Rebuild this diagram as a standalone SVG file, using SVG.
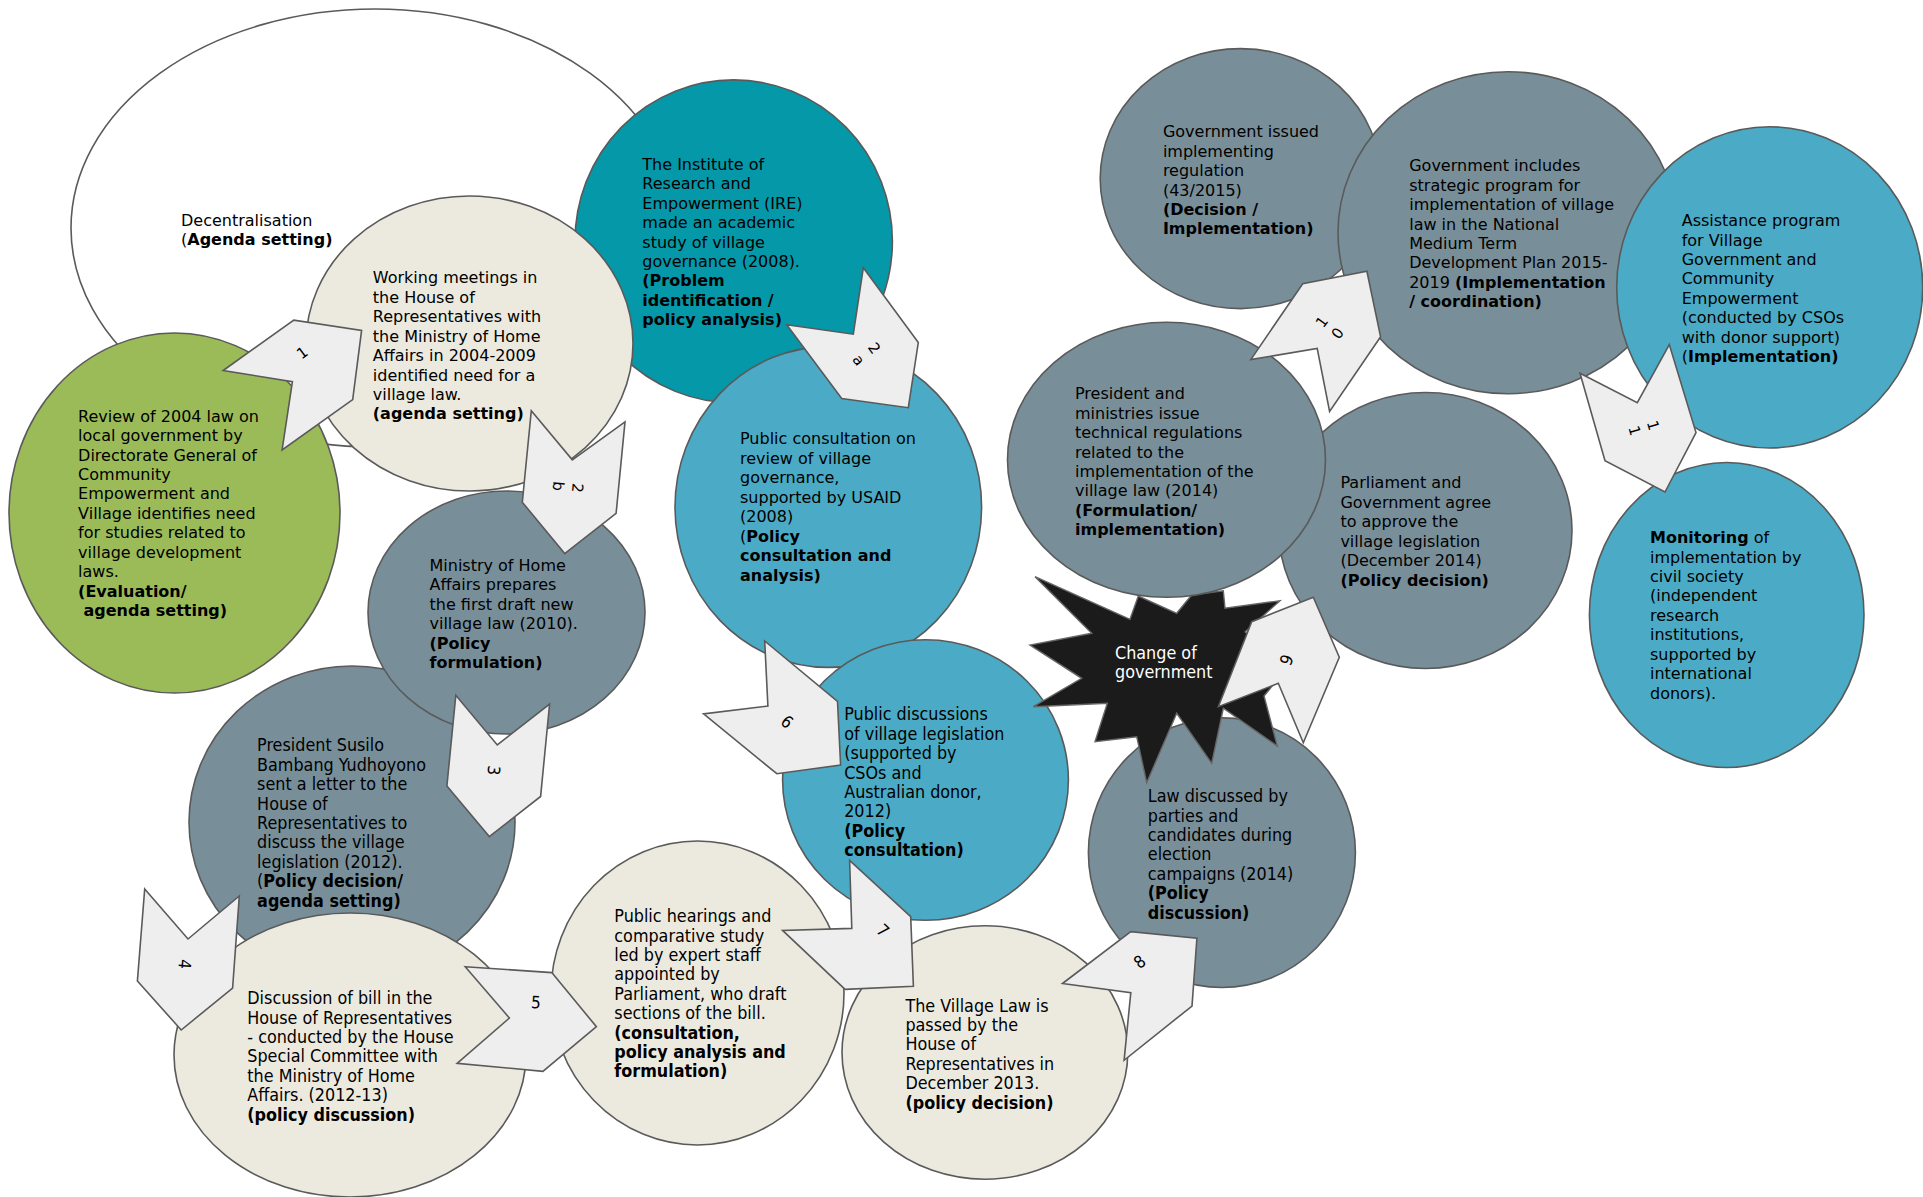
<svg xmlns="http://www.w3.org/2000/svg" width="1923" height="1197" viewBox="0 0 1923 1197">
<style>
.c{stroke:#5a5a5a;stroke-width:1.6}
.gray{fill:#788f9a}
.beige{fill:#eceadf}
.teal{fill:#0598a8}
.blue{fill:#4babc6}
.green{fill:#9bbb59}
.v{font-family:"DejaVu Sans",Verdana,sans-serif;font-size:16px;fill:#000}
.n{font-family:"DejaVu Sans Condensed","Liberation Sans",Arial,sans-serif;font-size:17.8px;fill:#000}
.b{font-weight:bold}
.arr{fill:#eeeeee;stroke:#5a5a5a;stroke-width:1.6;stroke-linejoin:miter}
.lv{font-family:"DejaVu Sans",Verdana,sans-serif;font-size:15px;fill:#000;text-anchor:middle}
.ln{font-family:"DejaVu Sans Condensed","Liberation Sans",Arial,sans-serif;font-size:17px;fill:#000;text-anchor:middle}
</style>
<rect width="1923" height="1197" fill="#ffffff"/>

<g id="decentralisation">
<ellipse class="c" cx="375" cy="228" rx="304" ry="219" fill="#ffffff"/>
<text class="v" x="181" y="225.7">Decentralisation<tspan x="181" dy="19.45">(</tspan><tspan class="b">Agenda setting)</tspan></text>
</g>

<g id="review-2004">
<ellipse class="c green" cx="174.5" cy="513" rx="165.5" ry="180"/>
<text class="v" x="78.1" y="421.6">Review of 2004 law on<tspan x="78.1" dy="19.45">local government by</tspan><tspan x="78.1" dy="19.45">Directorate General of</tspan><tspan x="78.1" dy="19.45">Community</tspan><tspan x="78.1" dy="19.45">Empowerment and</tspan><tspan x="78.1" dy="19.45">Village identifies need</tspan><tspan x="78.1" dy="19.45">for studies related to</tspan><tspan x="78.1" dy="19.45">village development</tspan><tspan x="78.1" dy="19.45">laws.</tspan><tspan class="b" x="78.1" dy="19.45">(Evaluation/</tspan><tspan class="b" x="83.5" dy="19.45">agenda setting)</tspan></text>
</g>

<g id="ire-study">
<ellipse class="c teal" cx="733.7" cy="241.3" rx="158.7" ry="161.4"/>
<text class="v" x="642.3" y="169.7">The Institute of<tspan x="642.3" dy="19.45">Research and</tspan><tspan x="642.3" dy="19.45">Empowerment (IRE)</tspan><tspan x="642.3" dy="19.45">made an academic</tspan><tspan x="642.3" dy="19.45">study of village</tspan><tspan x="642.3" dy="19.45">governance (2008).</tspan><tspan class="b" x="642.3" dy="19.45">(Problem</tspan><tspan class="b" x="642.3" dy="19.45">identification /</tspan><tspan class="b" x="642.3" dy="19.45">policy analysis)</tspan></text>
</g>

<g id="working-meetings">
<ellipse class="c beige" cx="469.5" cy="343.5" rx="163.5" ry="147.5"/>
<text class="v" x="372.8" y="283.3">Working meetings in<tspan x="372.8" dy="19.45">the House of</tspan><tspan x="372.8" dy="19.45">Representatives with</tspan><tspan x="372.8" dy="19.45">the Ministry of Home</tspan><tspan x="372.8" dy="19.45">Affairs in 2004-2009</tspan><tspan x="372.8" dy="19.45">identified need for a</tspan><tspan x="372.8" dy="19.45">village law.</tspan><tspan class="b" x="372.8" dy="19.45">(agenda setting)</tspan></text>
</g>

<g id="public-consultation">
<ellipse class="c blue" cx="828.3" cy="507" rx="153.3" ry="160.4"/>
<text class="v" x="740" y="444.4">Public consultation on<tspan x="740" dy="19.45">review of village</tspan><tspan x="740" dy="19.45">governance,</tspan><tspan x="740" dy="19.45">supported by USAID</tspan><tspan x="740" dy="19.45">(2008)</tspan><tspan x="740" dy="19.45">(</tspan><tspan class="b">Policy</tspan><tspan class="b" x="740" dy="19.45">consultation and</tspan><tspan class="b" x="740" dy="19.45">analysis)</tspan></text>
</g>

<g id="president-letter">
<ellipse class="c gray" cx="352" cy="822" rx="163" ry="156"/>
<text class="n" x="257.1" y="751.3">President Susilo<tspan x="257.1" dy="19.4">Bambang Yudhoyono</tspan><tspan x="257.1" dy="19.4">sent a letter to the</tspan><tspan x="257.1" dy="19.4">House of</tspan><tspan x="257.1" dy="19.4">Representatives to</tspan><tspan x="257.1" dy="19.4">discuss the village</tspan><tspan x="257.1" dy="19.4">legislation (2012).</tspan><tspan x="257.1" dy="19.4">(</tspan><tspan class="b">Policy decision/</tspan><tspan class="b" x="257.1" dy="19.4">agenda setting)</tspan></text>
</g>

<g id="ministry-draft">
<ellipse class="c gray" cx="506.5" cy="612.5" rx="138.5" ry="121.5"/>
<text class="v" x="429.5" y="570.8">Ministry of Home<tspan x="429.5" dy="19.45">Affairs prepares</tspan><tspan x="429.5" dy="19.45">the first draft new</tspan><tspan x="429.5" dy="19.45">village law (2010).</tspan><tspan class="b" x="429.5" dy="19.45">(Policy</tspan><tspan class="b" x="429.5" dy="19.45">formulation)</tspan></text>
</g>

<g id="bill-discussion">
<ellipse class="c beige" cx="350" cy="1055" rx="176" ry="142"/>
<text class="n" x="247.3" y="1004.2">Discussion of bill in the<tspan x="247.3" dy="19.4">House of Representatives</tspan><tspan x="247.3" dy="19.4">- conducted by the House</tspan><tspan x="247.3" dy="19.4">Special Committee with</tspan><tspan x="247.3" dy="19.4">the Ministry of Home</tspan><tspan x="247.3" dy="19.4">Affairs. (2012-13)</tspan><tspan class="b" x="247.3" dy="19.4">(policy discussion)</tspan></text>
</g>

<g id="public-hearings">
<ellipse class="c beige" cx="697.5" cy="993" rx="146.5" ry="152"/>
<text class="n" x="614.3" y="922.2">Public hearings and<tspan x="614.3" dy="19.4">comparative study</tspan><tspan x="614.3" dy="19.4">led by expert staff</tspan><tspan x="614.3" dy="19.4">appointed by</tspan><tspan x="614.3" dy="19.4">Parliament, who draft</tspan><tspan x="614.3" dy="19.4">sections of the bill.</tspan><tspan class="b" x="614.3" dy="19.4">(consultation,</tspan><tspan class="b" x="614.3" dy="19.4">policy analysis and</tspan><tspan class="b" x="614.3" dy="19.4">formulation)</tspan></text>
</g>

<g id="public-discussions">
<ellipse class="c blue" cx="925.5" cy="780" rx="142.9" ry="140.3"/>
<text class="n" x="844.2" y="720.3">Public discussions<tspan x="844.2" dy="19.4">of village legislation</tspan><tspan x="844.2" dy="19.4">(supported by</tspan><tspan x="844.2" dy="19.4">CSOs and</tspan><tspan x="844.2" dy="19.4">Australian donor,</tspan><tspan x="844.2" dy="19.4">2012)</tspan><tspan class="b" x="844.2" dy="19.4">(Policy</tspan><tspan class="b" x="844.2" dy="19.4">consultation)</tspan></text>
</g>

<g id="village-law-passed">
<ellipse class="c beige" cx="984.9" cy="1052.5" rx="142.9" ry="126.7"/>
<text class="n" x="905.4" y="1011.6">The Village Law is<tspan x="905.4" dy="19.4">passed by the</tspan><tspan x="905.4" dy="19.4">House of</tspan><tspan x="905.4" dy="19.4">Representatives in</tspan><tspan x="905.4" dy="19.4">December 2013.</tspan><tspan class="b" x="905.4" dy="19.4">(policy decision)</tspan></text>
</g>

<g id="law-discussed">
<ellipse class="c gray" cx="1221.9" cy="852.7" rx="133.5" ry="134.8"/>
<text class="n" x="1147.8" y="802.1">Law discussed by<tspan x="1147.8" dy="19.4">parties and</tspan><tspan x="1147.8" dy="19.4">candidates during</tspan><tspan x="1147.8" dy="19.4">election</tspan><tspan x="1147.8" dy="19.4">campaigns (2014)</tspan><tspan class="b" x="1147.8" dy="19.4">(Policy</tspan><tspan class="b" x="1147.8" dy="19.4">discussion)</tspan></text>
</g>

<g id="change-of-government">
<polygon points="1035,576.7 1130,619.3 1138.3,596 1176.7,613.3 1191.7,595 1223.3,590.7 1225,608.3 1280,600.7 1245,632 1292,662 1264,696 1277.3,746 1223.3,708.3 1211.7,763.3 1176.7,713.3 1146.7,782.7 1136.7,736.7 1095,741.7 1107.3,703.3 1033.3,706.7 1081.7,678.3 1030,645 1091.7,633.3" fill="#1b1b1b" stroke="#666666" stroke-width="1.4"/>
<text class="n" x="1115" y="659" style="fill:#ffffff">Change of<tspan x="1115" dy="19">government</tspan></text>
</g>

<g id="parliament-agree">
<ellipse class="c gray" cx="1425.5" cy="530.5" rx="146.5" ry="138"/>
<text class="v" x="1340.4" y="488.3">Parliament and<tspan x="1340.4" dy="19.45">Government agree</tspan><tspan x="1340.4" dy="19.45">to approve the</tspan><tspan x="1340.4" dy="19.45">village legislation</tspan><tspan x="1340.4" dy="19.45">(December 2014)</tspan><tspan class="b" x="1340.4" dy="19.45">(Policy decision)</tspan></text>
</g>

<g id="technical-regulations">
<ellipse class="c gray" cx="1166.5" cy="459.8" rx="159" ry="137.5"/>
<text class="v" x="1075" y="399.2">President and<tspan x="1075" dy="19.45">ministries issue</tspan><tspan x="1075" dy="19.45">technical regulations</tspan><tspan x="1075" dy="19.45">related to the</tspan><tspan x="1075" dy="19.45">implementation of the</tspan><tspan x="1075" dy="19.45">village law (2014)</tspan><tspan class="b" x="1075" dy="19.45">(Formulation/</tspan><tspan class="b" x="1075" dy="19.45">implementation)</tspan></text>
</g>

<g id="implementing-regulation">
<ellipse class="c gray" cx="1240.5" cy="178.6" rx="140.3" ry="130"/>
<text class="v" x="1162.9" y="137.2">Government issued<tspan x="1162.9" dy="19.45">implementing</tspan><tspan x="1162.9" dy="19.45">regulation</tspan><tspan x="1162.9" dy="19.45">(43/2015)</tspan><tspan class="b" x="1162.9" dy="19.45">(Decision /</tspan><tspan class="b" x="1162.9" dy="19.45">Implementation)</tspan></text>
</g>

<g id="strategic-program">
<ellipse class="c gray" cx="1508" cy="232.7" rx="170" ry="161"/>
<text class="v" x="1409.2" y="171.2">Government includes<tspan x="1409.2" dy="19.45">strategic program for</tspan><tspan x="1409.2" dy="19.45">implementation of village</tspan><tspan x="1409.2" dy="19.45">law in the National</tspan><tspan x="1409.2" dy="19.45">Medium Term</tspan><tspan x="1409.2" dy="19.45">Development Plan 2015-</tspan><tspan x="1409.2" dy="19.45">2019 </tspan><tspan class="b">(Implementation</tspan><tspan class="b" x="1409.2" dy="19.45">/ coordination)</tspan></text>
</g>

<g id="assistance-program">
<ellipse class="c blue" cx="1769.7" cy="287.4" rx="153" ry="160.6"/>
<text class="v" x="1681.7" y="226.1">Assistance program<tspan x="1681.7" dy="19.45">for Village</tspan><tspan x="1681.7" dy="19.45">Government and</tspan><tspan x="1681.7" dy="19.45">Community</tspan><tspan x="1681.7" dy="19.45">Empowerment</tspan><tspan x="1681.7" dy="19.45">(conducted by CSOs</tspan><tspan x="1681.7" dy="19.45">with donor support)</tspan><tspan x="1681.7" dy="19.45">(</tspan><tspan class="b">Implementation)</tspan></text>
</g>

<g id="monitoring">
<ellipse class="c blue" cx="1726.7" cy="615" rx="137.3" ry="152.5"/>
<text class="v" x="1650" y="543.1"><tspan class="b">Monitoring</tspan> of<tspan x="1650" dy="19.45">implementation by</tspan><tspan x="1650" dy="19.45">civil society</tspan><tspan x="1650" dy="19.45">(independent</tspan><tspan x="1650" dy="19.45">research</tspan><tspan x="1650" dy="19.45">institutions,</tspan><tspan x="1650" dy="19.45">supported by</tspan><tspan x="1650" dy="19.45">international</tspan><tspan x="1650" dy="19.45">donors).</tspan></text>
</g>

<g id="connectors">
<g id="arrow-1"><polygon class="arr" points="223.2,370.5 293.8,320.1 361.6,330.4 352.7,399.6 282.1,450 292.4,381.7"/><text class="lv" transform="translate(302,352.5) rotate(-36.6)" y="5.4">1</text></g>
<g id="arrow-2a"><polygon class="arr" points="863.3,267.8 918.3,342.5 908.3,407.7 841.7,398.5 786.7,324.7 853.3,334.2"/><text class="lv" transform="translate(866.6,354) rotate(53)"><tspan x="0" y="-4.3">2</tspan><tspan x="0" y="15.1">a</tspan></text></g>
<g id="arrow-2b"><polygon class="arr" points="531.3,410.7 572.3,459.8 625,421.9 616.1,513.4 564.7,553.6 522.3,502.2"/><text class="lv" transform="translate(568,487) rotate(95)"><tspan x="0" y="-4.3">2</tspan><tspan x="0" y="15.1">b</tspan></text></g>
<g id="arrow-3"><polygon class="arr" points="455.8,695.3 497.3,744.9 549.6,704.1 540.6,796.5 489.3,836.6 446.9,786"/><text class="ln" transform="translate(493.8,770.3) rotate(95)" y="6">3</text></g>
<g id="arrow-4"><polygon class="arr" points="144.7,889 188,939 239.3,896 232.6,988 181.2,1030 137.4,981"/><text class="ln" transform="translate(184.8,964) rotate(95)" y="6">4</text></g>
<g id="arrow-5"><polygon class="arr" points="465.2,966.7 551.8,972.6 596.4,1026.7 542.9,1071.3 457.1,1063.3 509.4,1018"/><text class="ln" transform="translate(536,1002.3) rotate(3)" y="6">5</text></g>
<g id="arrow-6"><polygon class="arr" points="764.7,641 837.5,701.3 840.6,765 776.8,773.7 703.6,713.9 767.9,706"/><text class="ln" transform="translate(787,721.7) rotate(40)" y="6">6</text></g>
<g id="arrow-7"><polygon class="arr" points="849.6,860.3 910.7,916.6 913.4,986.3 845.1,989.4 782.6,930.4 851.8,928.4"/><text class="ln" transform="translate(883,930.4) rotate(43)" y="6">7</text></g>
<g id="arrow-8"><polygon class="arr" points="1062.5,983.5 1130.8,931.6 1196.9,938.3 1192,1006 1124.1,1060.3 1130.8,992.6"/><text class="ln" transform="translate(1139.7,961.9) rotate(-38)" y="6">8</text></g>
<g id="arrow-9"><polygon class="arr" points="1218.3,706.7 1251.7,621.7 1313.3,597.3 1339.3,657.3 1303.3,742.7 1278.3,683.3"/><text class="ln" transform="translate(1286.7,660) rotate(-67)" y="6">9</text></g>
<g id="arrow-10"><polygon class="arr" points="1250.8,359.6 1302.7,283.7 1366.9,271.3 1380.6,336.8 1329.6,411.4 1317.2,348.4"/><text class="lv" transform="translate(1329.6,327.5) rotate(-54)"><tspan x="0" y="-4.3">1</tspan><tspan x="0" y="15.1">0</tspan></text></g>
<g id="arrow-11"><polygon class="arr" points="1580,373.2 1637.3,402.7 1669.3,344.6 1696,432.6 1665,492 1605,460.7"/><text class="lv" transform="translate(1644,428) rotate(74)"><tspan x="0" y="-4.3">1</tspan><tspan x="0" y="15.1">1</tspan></text></g>
</g>
</svg>
